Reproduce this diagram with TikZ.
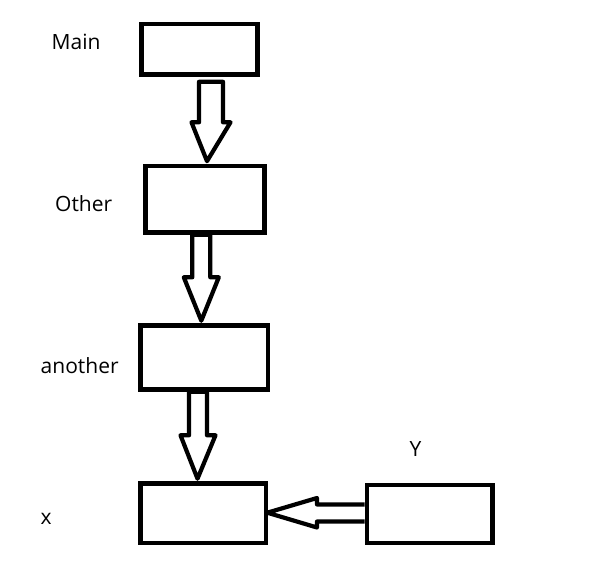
\documentclass[tikz,border=0pt]{standalone}
\usepackage{fontspec}
\setmainfont{Open Sans}
\usetikzlibrary{calc}
\begin{document}
\begin{tikzpicture}[x=1pt,y=-1pt,
  box/.style={draw=black,line width=4.6pt,rectangle,inner sep=0pt},
  lbl/.style={font=\fontsize{21}{24}\selectfont,inner sep=0pt,anchor=base west},
  blockarrow/.style={draw=black,fill=white,line width=4.2pt,line join=round}]
\useasboundingbox[fill=white] (0,0) rectangle (589,586);
% boxes
\node[box,minimum width=116.2pt,minimum height=50.5pt] (main) at (199.6,49.25) {};
\node[box,minimum width=119pt,minimum height=66.5pt] (other) at (205,199.25) {};
\node[box,minimum width=127.5pt,minimum height=64pt] (another) at (204.25,357.5) {};
\node[box,minimum width=125.5pt,minimum height=59.5pt] (xbox) at (203.25,513.25) {};
\node[box,minimum width=125.5pt,minimum height=58pt] (ybox) at (429.75,514) {};
% labels
\node[lbl] (lmain) at (51.5,50) {Main};
\node[lbl] (lother) at (55,211.7) {Other};
\node[lbl] (lanother) at (40.5,373) {another};
\node[lbl] (lx) at (40.5,524) {x};
\node[lbl] (ly) at (409.5,456.7) {Y};
% block arrows (hollow)
% main -> other
\draw[blockarrow] ($(main.south -| 207,0)+(-8,5)$) -- ++(0,40.5) -- ++(-7.5,0)
  -- ($(other.north -| 207,0)+(0,-2.5)$) -- ($(main.south -| 207,0)+(23.5,45.5)$)
  -- ++(-7.5,0) -- ++(0,-40.5) -- cycle;
% other -> another
\draw[blockarrow] ($(other.south -| 201.3,0)+(-9,0)$) -- ++(0,42.5) -- ++(-8.5,0)
  -- ($(another.north -| 201.3,0)+(0,-2.5)$) -- ($(other.south -| 201.3,0)+(17.5,42.5)$)
  -- ++(-8.5,0) -- ++(0,-42.5) -- cycle;
% another -> x
\draw[blockarrow] ($(another.south -| 198,0)+(-9,0)$) -- ++(0,43.5) -- ++(-8.5,0)
  -- ($(xbox.north -| 197.5,0)+(0,-2.5)$) -- ($(another.south -| 198,0)+(17.5,43.5)$)
  -- ++(-8.5,0) -- ++(0,-43.5) -- cycle;
% Y -> x
\draw[blockarrow] ($(ybox.west |- 0,513)+(0,-8.5)$) -- (317,504.5) -- (317,498)
  -- ($(xbox.east |- 0,512.7)+(-1,0)$) -- (317,527.5) -- (317,521.5)
  -- ($(ybox.west |- 0,513)+(0,8.5)$);
\end{tikzpicture}
\end{document}
